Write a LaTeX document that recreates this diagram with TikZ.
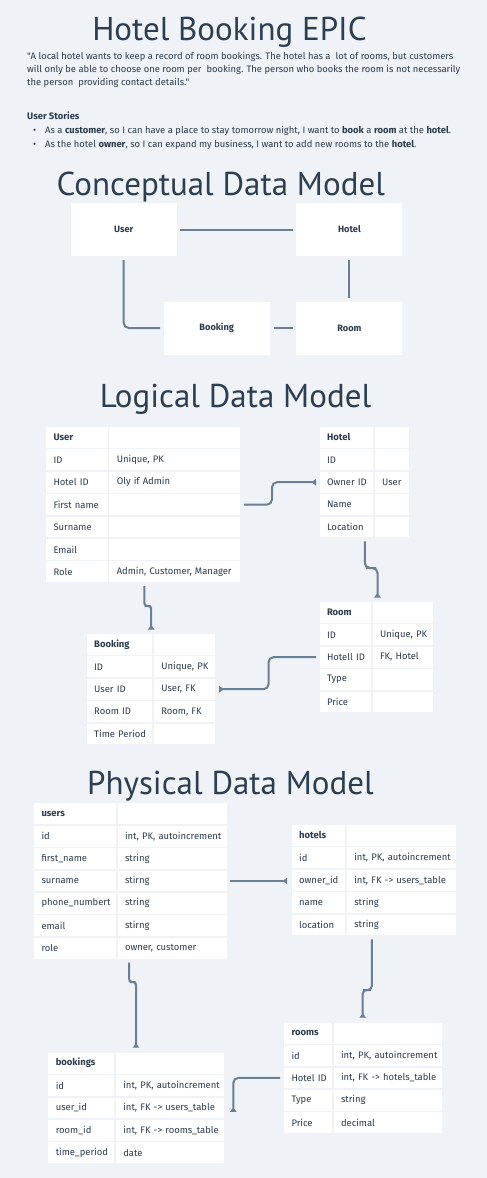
\documentclass[tikz,border=0pt]{standalone}
\usepackage{fontspec}
\setmainfont{PT Sans}
\newfontfamily\smallf{Fira Sans}
\usetikzlibrary{arrows.meta,calc}
\definecolor{bg}{HTML}{EFF3F7}
\definecolor{ink}{HTML}{2C3B4B}
\definecolor{titlec}{HTML}{2D3E50}
\definecolor{conn}{HTML}{6C7F92}
\tikzset{
  cell/.style={fill=white, draw=none, anchor=north west, inner ysep=0pt, inner xsep=7.5pt, outer sep=0pt,
    minimum height=20.8pt, text=ink, font=\smallf\fontsize{9.45}{10}\selectfont, align=left},
  cbox/.style={fill=white, draw=none, minimum width=106pt, minimum height=53pt, inner sep=0pt,
    text=ink, font=\smallf\bfseries\fontsize{9.2}{10}\selectfont},
  titletext/.style={anchor=base, inner sep=0pt, text=titlec, font=\fontsize{33}{36}\selectfont},
  body/.style={anchor=base west, inner sep=0pt, text=ink, font=\smallf\fontsize{9.4}{11}\selectfont},
  conn/.style={draw=conn, line width=2pt, rounded corners=5pt},
  fk/.style={conn, -{Triangle[reversed, length=4.5pt, width=6.5pt]}},
}
\newcommand\ertable[6]{%
  \pgfmathsetmacro\wa{#3-#2-15}%
  \pgfmathsetmacro\wb{#4-#3-1.8-15}%
  \foreach [count=\i] \a/\b in {#6} {
    \pgfmathsetmacro\yy{#5+(\i-1)*22.4}
    \node[cell, text width=\wa pt] (#1-\i-a) at (#2,\yy) {\mbox{\ifnum\i=1 \bfseries\fi\a}};
    \node[cell, text width=\wb pt] (#1-\i-b) at (#3+1.8,\yy) {\mbox{\b}};
  }%
}
\begin{document}
\begin{tikzpicture}[x=1pt,y=-1pt]
\fill[bg] (0,0) rectangle (487,1178);
\useasboundingbox (0,0) rectangle (487,1178);

% ---------- heading ----------
\node[titletext] (title) at (229.5,40) {Hotel Booking EPIC};
\node[body] (q1) at (27,59) {"A local hotel wants to keep a record of room bookings. The hotel has a\ \ lot of rooms, but customers};
\node[body] (q2) at (27,72.5) {will only be able to choose one room per\ \ booking. The person who books the room is not necessarily};
\node[body] (q3) at (27,85.8) {the person\ \ providing contact details."};
\node[body, font=\smallf\bfseries\fontsize{9.4}{11}\selectfont] (us) at (27,119.7) {User Stories};
\node[body] (s1) at (33,133.7) {\makebox[12pt][l]{\textbullet}As a \textbf{customer}, so I can have a place to stay tomorrow night, I want to \textbf{book} a \textbf{room} at the \textbf{hotel}.};
\node[body] (s2) at (33,147) {\makebox[12pt][l]{\textbullet}As the hotel \textbf{owner}, so I can expand my business, I want to add new rooms to the \textbf{hotel}.};

% ---------- conceptual ----------
\node[titletext] (tc) at (220.8,195) {Conceptual Data Model};
\node[cbox] (cuser) at (123.7,229.5) {User};
\node[cbox] (chotel) at (349.4,229.5) {Hotel};
\node[cbox] (cbook) at (216.7,328) {Booking};
\node[cbox] (croom) at (349.4,328) {Room};
\draw[conn, shorten <=3.5pt, shorten >=3.5pt] (cuser) -- (chotel);
\draw[conn, shorten <=4pt, shorten >=3.5pt] (chotel) -- (croom);
\draw[conn, shorten <=4pt, shorten >=3pt] (cbook) -- (croom);
\draw[conn, shorten <=4pt, shorten >=3.5pt] (cuser.south) |- (cbook.west);

% ---------- logical ----------
\node[titletext] (tl) at (235.5,407) {Logical Data Model};
\ertable{lu}{46}{107.5}{240}{427}{{User}/{}, {ID}/{Unique, PK}, {Hotel ID}/{Oly if Admin}, {First name}/{}, {Surname}/{}, {Email}/{}, {Role}/{Admin, Customer, Manager}}
\ertable{lh}{319.5}{372.8}{409}{427}{{Hotel}/{}, {ID}/{}, {Owner ID}/{User}, {Name}/{}, {Location}/{}}
\ertable{lr}{319.5}{370.7}{432.7}{602}{{Room}/{}, {ID}/{Unique, PK}, {Hotell ID}/{FK, Hotel}, {Type}/{}, {Price}/{}}
\ertable{lb}{86.7}{152}{214.7}{634}{{Booking}/{}, {ID}/{Unique, PK}, {User ID}/{User, FK}, {Room ID}/{Room, FK}, {Time Period}/{}}

\coordinate (a1s) at ($(lu-4-b.east)+(4,0)$);
\coordinate (a1e) at ($(lh-3-a.west)+(-3.5,0)$);
\coordinate (a1m) at (272,494);
\draw[fk] (a1s) -| (a1m) |- (a1e);

\coordinate (a2s) at ($(lh-5-a.south east)+(-8,4)$);
\coordinate (a2e) at ($(lr-1-b.north west)+(5,-4.5)$);
\coordinate (a2m) at (371,568);
\draw[fk] (a2s) |- (a2m) -| (a2e);

\coordinate (a3s) at ($(lu-7-b.south west)+(35,4)$);
\coordinate (a3e) at ($(lb-1-a.north west)+(64.5,-4.5)$);
\coordinate (a3m) at (147.5,606);
\draw[fk, rounded corners=3pt] (a3s) |- (a3m) -| (a3e);

\coordinate (a4s) at ($(lr-3-a.west)+(-3.5,0)$);
\coordinate (a4e) at ($(lb-3-b.east)+(4.5,0)$);
\coordinate (a4m) at (268.5,673);
\draw[fk] (a4s) -| (a4m) |- (a4e);

% ---------- physical ----------
\node[titletext] (tp) at (230.5,794.5) {Physical Data Model};
\ertable{pu}{34}{115.7}{226.7}{803.3}{{users}/{}, {id}/{int, PK, autoincrement}, {first\_name}/{string}, {surname}/{stirng}, {phone\_numbert}/{string}, {email}/{stirng}, {role}/{owner, customer}}
\ertable{ph}{291.7}{345}{456}{825}{{hotels}/{}, {id}/{int, PK, autoincrement}, {owner\_id}/{int, FK -> users\_table}, {name}/{string}, {location}/{string}}
\ertable{pr}{284}{331.7}{442}{1022.7}{{rooms}/{}, {id}/{int, PK, autoincrement}, {Hotel ID}/{int, FK -> hotels\_table}, {Type}/{string}, {Price}/{decimal}}
\ertable{pb}{48.3}{114}{224.3}{1052.7}{{bookings}/{}, {id}/{int, PK, autoincrement}, {user\_id}/{int, FK -> users\_table}, {room\_id}/{int, FK -> rooms\_table}, {time\_period}/{date}}

\coordinate (b1s) at ($(pu-4-b.east)+(3.5,0)$);
\coordinate (b1e) at ($(ph-3-a.west)+(-4.5,0)$);
\draw[fk] (b1s) -- (b1s -| b1e);

\coordinate (b2s) at ($(pu-7-b.south west)+(11.6,4)$);
\coordinate (b2e) at ($(pb-1-b.north west)+(20.2,-5)$);
\coordinate (b2m) at (132.6,982);
\draw[fk, rounded corners=3pt] (b2s) |- (b2m) -| (b2e);

\coordinate (b3s) at ($(ph-5-b.south west)+(25,4)$);
\coordinate (b3e) at ($(pr-1-b.north west)+(29.2,-5)$);
\coordinate (b3m) at (367,990);
\draw[fk, rounded corners=4pt] (b3s) |- (b3m) -| (b3e);

\coordinate (b4s) at ($(pr-3-a.west)+(-4,0)$);
\coordinate (b4e) at ($(pb-3-b.east)+(9,4)$);
\draw[fk] (b4s) -| (b4e);
\end{tikzpicture}
\end{document}
